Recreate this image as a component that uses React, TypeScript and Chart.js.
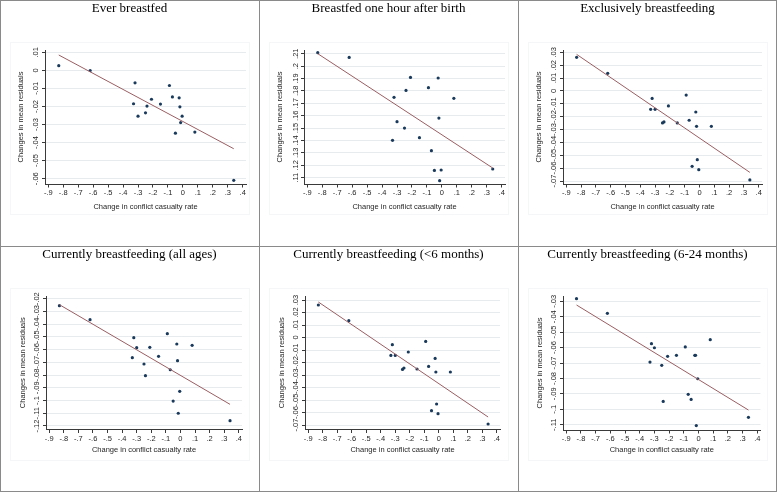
import React, { useEffect, useRef } from "react";
import { Chart, registerables } from "chart.js";

Chart.register(...registerables);

// ---------- data ----------
const CASUALTY_CHANGE = [-0.83, -0.62, -0.32, -0.33, -0.3, -0.25, -0.24, -0.21, -0.15, -0.09, -0.07, -0.025, -0.02, -0.005, -0.015, -0.05, 0.08, 0.34];

const EVER_BREASTFED = [0.0026, -0.0001, -0.0069, -0.0185, -0.0254, -0.0235, -0.0198, -0.016, -0.0187, -0.0084, -0.0147, -0.0152, -0.0202, -0.0254, -0.0289, -0.0348, -0.0342, -0.0609];
const EARLY_INITIATION = [0.2108, 0.207, 0.1748, 0.1401, 0.1552, 0.15, 0.1804, 0.1909, 0.1423, 0.1826, 0.1318, 0.1904, 0.1581, 0.1162, 0.1076, 0.1159, 0.174, 0.117];
const EXCLUSIVE_BF = [0.0261, 0.0137, -0.0058, -0.0143, -0.0143, -0.0249, -0.0241, -0.0117, -0.0249, -0.0032, -0.0228, -0.0164, -0.0275, -0.0612, -0.0534, -0.0586, -0.0275, -0.0692];
const CURRENT_ALL = [-0.0255, -0.0365, -0.0506, -0.0663, -0.0585, -0.0713, -0.0805, -0.0582, -0.0653, -0.0475, -0.0758, -0.0556, -0.0687, -0.0928, -0.11, -0.1004, -0.0566, -0.1158];
const CURRENT_UNDER6 = [0.026, 0.0135, -0.0057, -0.0143, -0.0143, -0.0255, -0.0244, -0.0116, -0.0252, -0.0031, -0.0231, -0.0167, -0.0276, -0.0609, -0.0532, -0.0585, -0.0276, -0.0692];
const CURRENT_6_24 = [-0.0283, -0.0378, -0.0575, -0.0694, -0.0601, -0.0715, -0.0949, -0.0657, -0.065, -0.0596, -0.0903, -0.065, -0.065, -0.0802, -0.1106, -0.0936, -0.0549, -0.1052];

// fitted line end points
const FIT_X = [-0.83, 0.34];
const FIT_EVER = [0.0085, -0.0434];
const FIT_EARLY = [0.21, 0.1178];
const FIT_EXCLUSIVE = [0.0284, -0.0633];
const FIT_CURRENT_ALL = [-0.0247, -0.103];
const FIT_CURRENT_UNDER6 = [0.0284, -0.0636];
const FIT_CURRENT_6_24 = [-0.0324, -0.1005];

// ticks
const X_TICKS = [-0.9, -0.8, -0.7, -0.6, -0.5, -0.4, -0.3, -0.2, -0.1, 0, 0.1, 0.2, 0.3, 0.4];
const X_TICK_LABELS = ["-.9", "-.8", "-.7", "-.6", "-.5", "-.4", "-.3", "-.2", "-.1", "0", ".1", ".2", ".3", ".4"];

const Y_TICKS_EVER = [-0.06, -0.05, -0.04, -0.03, -0.02, -0.01, 0, 0.01];
const Y_LABELS_EVER = ["-.06", "-.05", "-.04", "-.03", "-.02", "-.01", "0", ".01"];
const Y_TICKS_EARLY = [0.11, 0.12, 0.13, 0.14, 0.15, 0.16, 0.17, 0.18, 0.19, 0.2, 0.21];
const Y_LABELS_EARLY = [".11", ".12", ".13", ".14", ".15", ".16", ".17", ".18", ".19", ".2", ".21"];
const Y_TICKS_EXCL = [-0.07, -0.06, -0.05, -0.04, -0.03, -0.02, -0.01, 0, 0.01, 0.02, 0.03];
const Y_LABELS_EXCL = ["-.07", "-.06", "-.05", "-.04", "-.03", "-.02", "-.01", "0", ".01", ".02", ".03"];
const Y_TICKS_ALL = [-0.12, -0.11, -0.1, -0.09, -0.08, -0.07, -0.06, -0.05, -0.04, -0.03, -0.02];
const Y_LABELS_ALL = ["-.12", "-.11", "-.1", "-.09", "-.08", "-.07", "-.06", "-.05", "-.04", "-.03", "-.02"];
const Y_TICKS_6_24 = [-0.11, -0.1, -0.09, -0.08, -0.07, -0.06, -0.05, -0.04, -0.03];
const Y_LABELS_6_24 = ["-.11", "-.1", "-.09", "-.08", "-.07", "-.06", "-.05", "-.04", "-.03"];

const TITLES = [
  "Ever breastfed",
  "Breastfed one hour after birth",
  "Exclusively breastfeeding",
  "Currently breastfeeding (all ages)",
  "Currently breastfeeding (<6 months)",
  "Currently breastfeeding (6-24 months)",
];
const X_TITLE = "Change in conflict casualty rate";
const Y_TITLE = "Changes in mean residuals";

// ---------- styling / layout ----------
const SANS = "'Liberation Sans', Arial, sans-serif";
const SERIF = "'Liberation Serif', 'Times New Roman', serif";
const NAVY = "#1a3a5c";
const MAROON = "#9a5e62";
const AXIS = "#3a3a3a";
const TEXT = "#262626";
const GRID = "#e8ebee";
const FRAME = "#8a8a8a";
const W = 259;
const H = 246;
const X_MIN = -0.922;
const X_MAX = 0.422;

type PanelSpec = {
  title: string;
  values: number[];
  fit: number[];
  yTicks: number[];
  yLabels: string[];
  yMin: number;
  yMax: number;
  box: { left: number; right: number; top: number; bottom: number };
  xTitleY: number;
  yTitleX: number;
};

const PANELS: PanelSpec[] = [
  { title: TITLES[0], values: EVER_BREASTFED, fit: FIT_EVER, yTicks: Y_TICKS_EVER, yLabels: Y_LABELS_EVER, yMin: -0.06293, yMax: 0.01127, box: { left: 45, right: 246, top: 50, bottom: 184 }, xTitleY: 206.7, yTitleX: 20.7 },
  { title: TITLES[1], values: EARLY_INITIATION, fit: FIT_EARLY, yTicks: Y_TICKS_EARLY, yLabels: Y_LABELS_EARLY, yMin: 0.10492, yMax: 0.21298, box: { left: 45, right: 246, top: 50, bottom: 184 }, xTitleY: 206.7, yTitleX: 20.7 },
  { title: TITLES[2], values: EXCLUSIVE_BF, fit: FIT_EXCLUSIVE, yTicks: Y_TICKS_EXCL, yLabels: Y_LABELS_EXCL, yMin: -0.07233, yMax: 0.03179, box: { left: 45, right: 244, top: 50, bottom: 184 }, xTitleY: 206.7, yTitleX: 20.7 },
  { title: TITLES[3], values: CURRENT_ALL, fit: FIT_CURRENT_ALL, yTicks: Y_TICKS_ALL, yLabels: Y_LABELS_ALL, yMin: -0.12275, yMax: -0.01788, box: { left: 46, right: 242, top: 50, bottom: 183.5 }, xTitleY: 204, yTitleX: 22.7 },
  { title: TITLES[4], values: CURRENT_UNDER6, fit: FIT_CURRENT_UNDER6, yTicks: Y_TICKS_EXCL, yLabels: Y_LABELS_EXCL, yMin: -0.0736, yMax: 0.0332, box: { left: 46, right: 241, top: 50, bottom: 183.5 }, xTitleY: 204, yTitleX: 23.3 },
  { title: TITLES[5], values: CURRENT_6_24, fit: FIT_CURRENT_6_24, yTicks: Y_TICKS_6_24, yLabels: Y_LABELS_6_24, yMin: -0.11344, yMax: -0.02656, box: { left: 45, right: 242.5, top: 50, bottom: 184 }, xTitleY: 204, yTitleX: 22 },
];

function Panel({ spec, col, row }: { spec: PanelSpec; col: number; row: number }) {
  const ref = useRef<HTMLCanvasElement>(null);
  useEffect(() => {
    if (!ref.current) return;
    const pad = W - spec.box.right;
    const font = { family: SANS, size: 7.5 };
    const chart = new Chart(ref.current, {
      type: "scatter",
      data: {
        datasets: [
          {
            data: CASUALTY_CHANGE.map((x, i) => ({ x, y: spec.values[i] })),
            pointRadius: 1.6,
            pointHoverRadius: 1.6,
            backgroundColor: NAVY,
            borderColor: NAVY,
            borderWidth: 0,
            order: 2,
          },
          {
            data: FIT_X.map((x, i) => ({ x, y: spec.fit[i] })),
            showLine: true,
            borderColor: MAROON,
            borderWidth: 1,
            pointRadius: 0,
            pointHoverRadius: 0,
            order: 1,
          },
        ],
      },
      options: {
        responsive: false,
        animation: false,
        events: [],
        layout: { padding: { left: pad, right: pad, top: 0, bottom: 0 } },
        plugins: {
          legend: { display: false },
          tooltip: { enabled: false },
          title: {
            display: true,
            text: spec.title,
            color: "#000000",
            font: { family: SERIF, size: 13, weight: "normal", lineHeight: 1.2 },
            padding: { top: 1.2, bottom: spec.box.top - 1.2 - 15.6 },
          },
        },
        scales: {
          x: {
            type: "linear",
            position: "bottom",
            min: X_MIN,
            max: X_MAX,
            afterBuildTicks: (s: any) => {
              s.ticks = X_TICKS.map((v) => ({ value: v }));
            },
            afterFit: (s: any) => {
              s.height = H - spec.box.bottom;
            },
            ticks: {
              autoSkip: false,
              maxRotation: 0,
              minRotation: 0,
              padding: 1.3,
              color: TEXT,
              font,
              callback: (_v: any, i: number) => X_TICK_LABELS[i],
            },
            grid: { display: true, drawOnChartArea: false, drawTicks: true, tickLength: 3.5, tickColor: AXIS, tickWidth: 1 },
            border: { display: true, color: AXIS, width: 1 },
            title: { display: true, text: X_TITLE, color: TEXT, font, padding: { top: 0, bottom: H - spec.xTitleY - 4.5 } },
          },
          y: {
            type: "linear",
            position: "left",
            min: spec.yMin,
            max: spec.yMax,
            afterBuildTicks: (s: any) => {
              s.ticks = spec.yTicks.map((v) => ({ value: v }));
            },
            afterFit: (s: any) => {
              s.width = spec.box.left - pad;
            },
            ticks: {
              autoSkip: false,
              minRotation: 90,
              maxRotation: 90,
              crossAlign: "center",
              padding: 0,
              color: TEXT,
              font,
              callback: (_v: any, i: number) => spec.yLabels[i],
            },
            grid: { display: true, drawOnChartArea: true, color: GRID, lineWidth: 1, drawTicks: true, tickLength: 3, tickColor: AXIS, tickWidth: 1 },
            border: { display: true, color: AXIS, width: 1 },
            title: { display: true, text: Y_TITLE, color: TEXT, font, padding: { top: spec.yTitleX - pad - 4.5, bottom: 0 } },
          },
        },
      } as any,
    });
    return () => chart.destroy();
  }, [spec]);

  return (
    <canvas
      ref={ref}
      width={W}
      height={H}
      style={{ position: "absolute", left: col * W, top: row * H, width: W, height: H, display: "block" }}
    />
  );
}

export default function App() {
  const line = (style: React.CSSProperties) => (
    <div style={{ position: "absolute", background: FRAME, ...style }} />
  );
  return (
    <div style={{ position: "absolute", left: 0, top: 0, width: 778, height: 493, background: "#ffffff", overflow: "hidden" }}>
      {PANELS.map((p, i) => (
        <div key={"bg" + i} style={{ position: "absolute", left: (i % 3) * W + 10, top: Math.floor(i / 3) * H + 42, width: 240, height: 173, border: "1px solid #f5f6f7", boxSizing: "border-box" }} />
      ))}
      {PANELS.map((p, i) => (
        <Panel key={i} spec={p} col={i % 3} row={Math.floor(i / 3)} />
      ))}
      <div style={{ position: "absolute", left: 0, top: 0, width: 777, height: 492, border: `1px solid ${FRAME}`, boxSizing: "border-box" }} />
      {line({ left: 259, top: 0, width: 1, height: 492 })}
      {line({ left: 518, top: 0, width: 1, height: 492 })}
      {line({ left: 0, top: 246, width: 777, height: 1 })}
    </div>
  );
}
